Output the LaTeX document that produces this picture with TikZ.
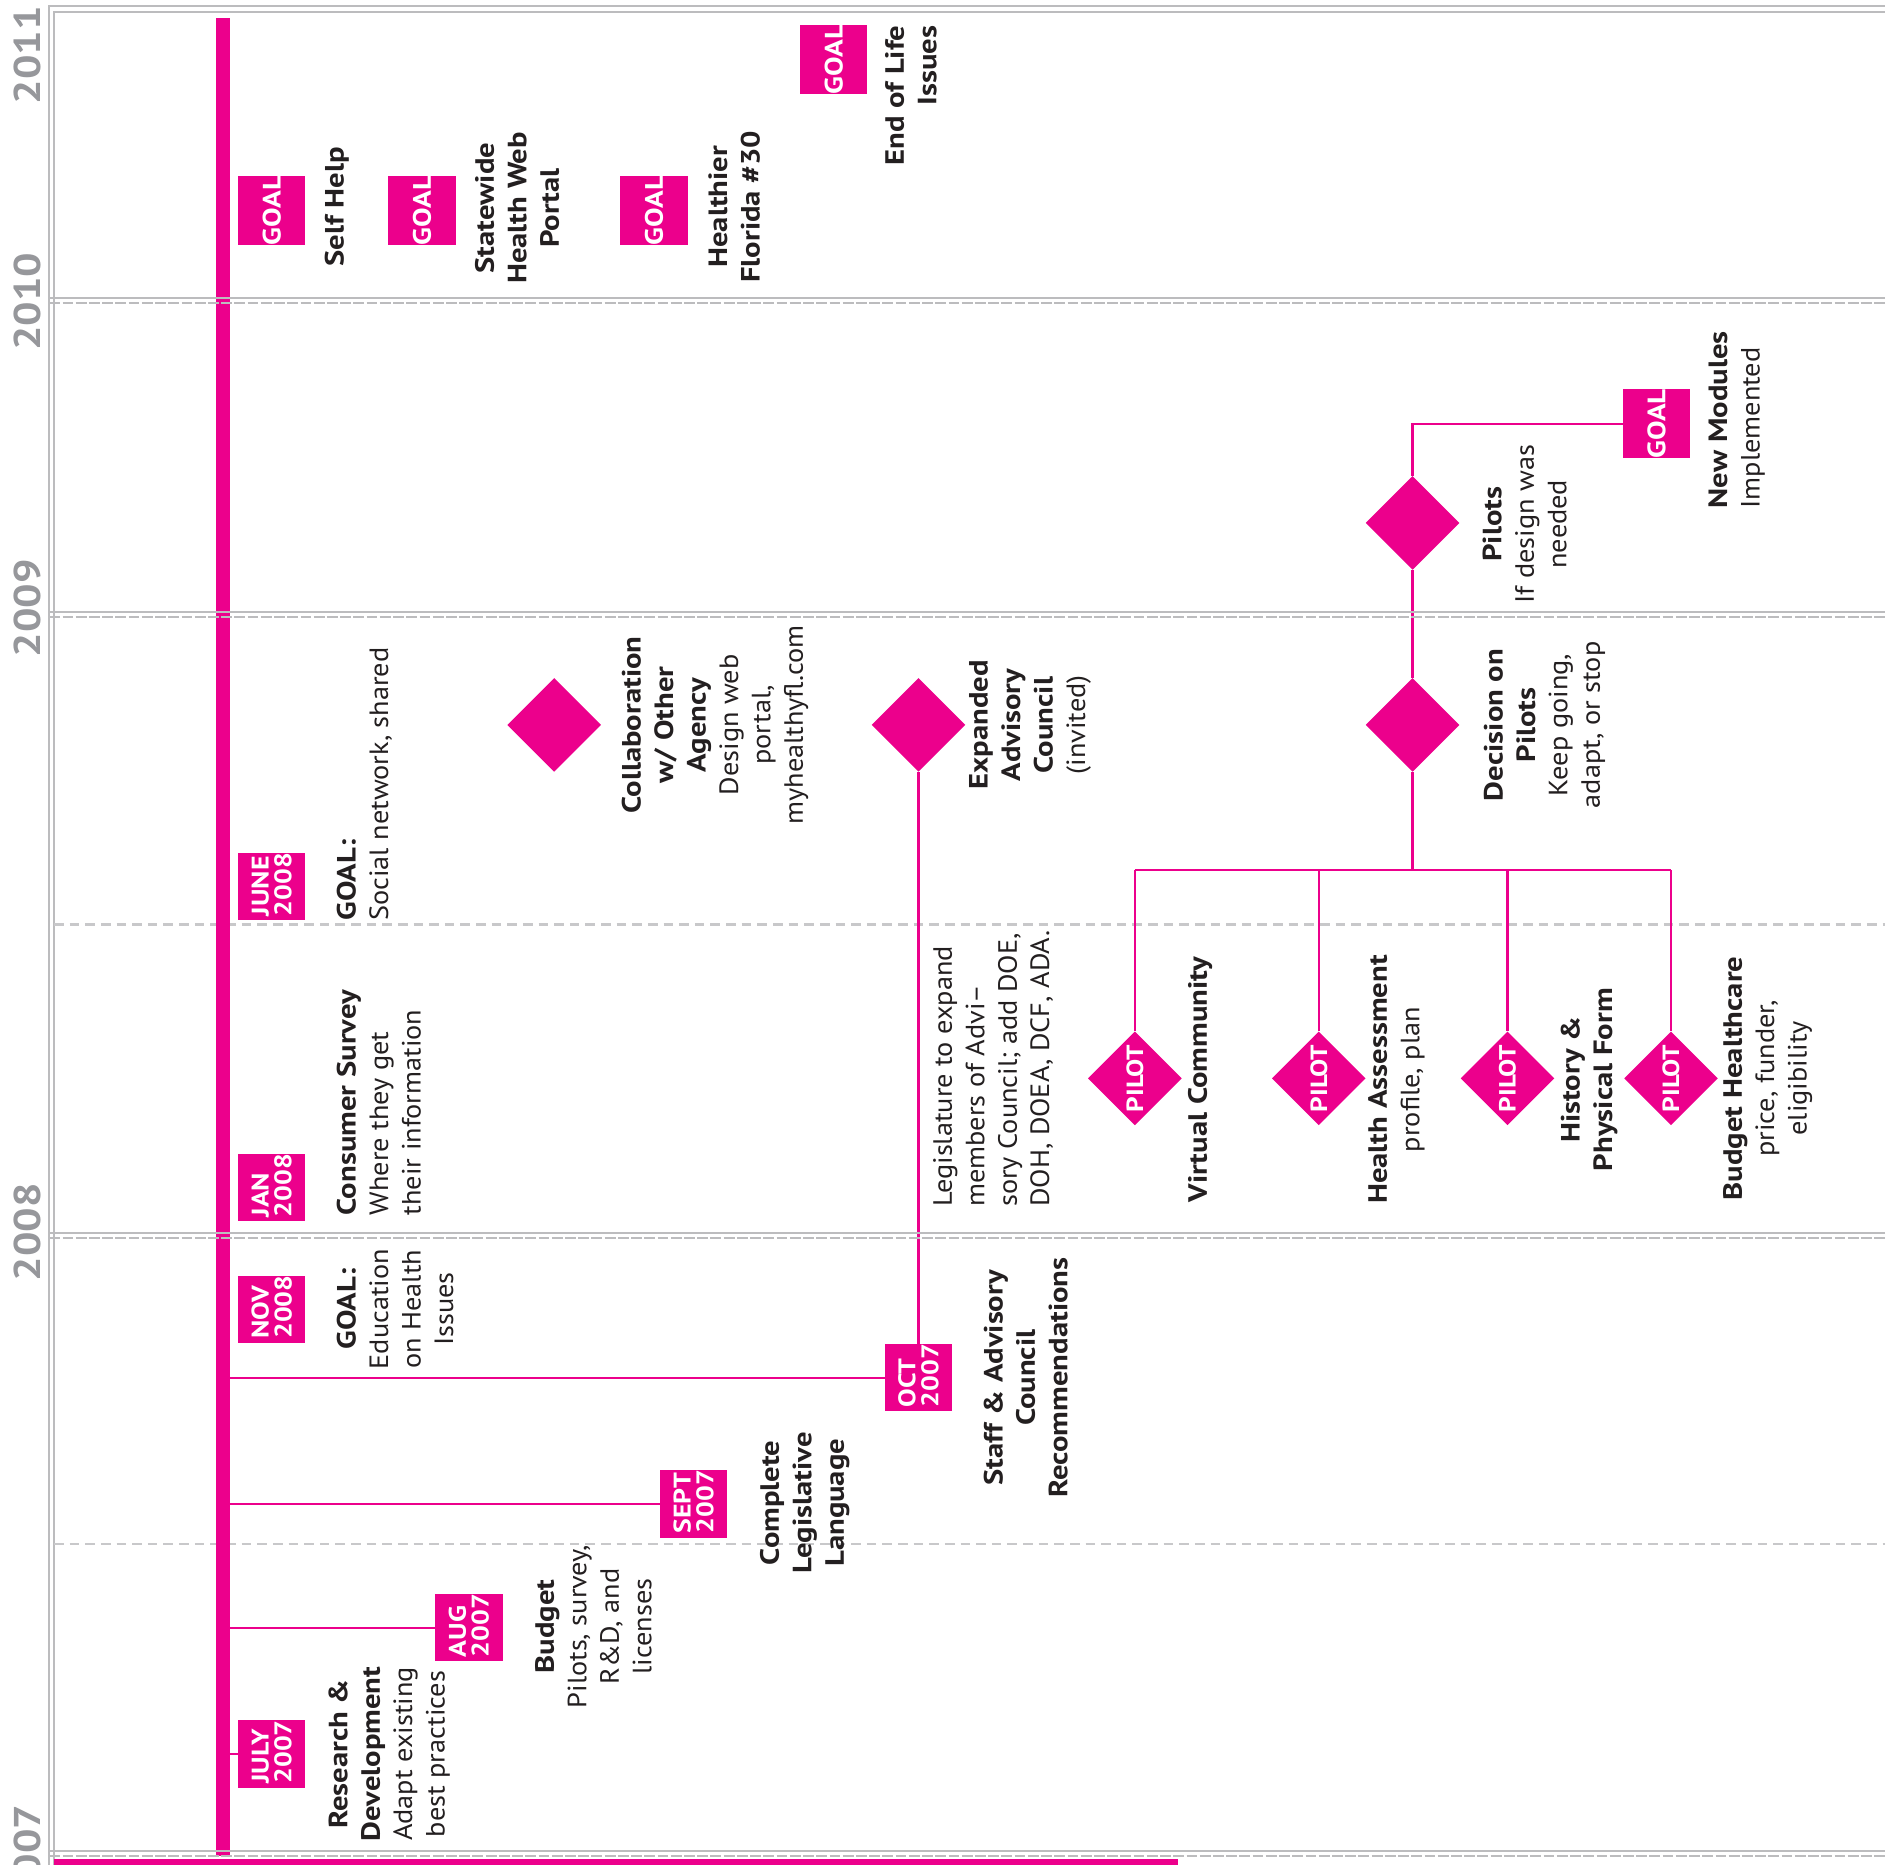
\documentclass[tikz,border=0pt]{standalone}
\usepackage{fontspec}
\setmainfont{PT Sans}[UprightFeatures={FakeStretch=1.07}, BoldFeatures={FakeStretch=1.16}]
\usetikzlibrary{shapes.geometric}
\definecolor{mag}{RGB}{236,0,140}
\definecolor{rulegray}{RGB}{188,188,190}
\definecolor{yeargray}{RGB}{150,151,155}
\definecolor{dashgray}{RGB}{200,200,202}
\definecolor{ink}{RGB}{35,31,32}
\newcommand\lblfont{\fontsize{22}{27}\selectfont}
\begin{document}
\begin{tikzpicture}[x=1pt,y=-1pt,
  lbl/.style={rotate=90, inner sep=0pt, text=ink, font=\lblfont},
  bold/.style={font=\lblfont\bfseries},
  lblc/.style={lbl, align=center, anchor=north},
  lbll/.style={lbl, align=left, anchor=north west},
  lblr/.style={lbl, align=right, anchor=north east},
  datebox/.style={rectangle, fill=mag, minimum width=56pt, minimum height=56pt, inner sep=0pt, text=white, font=\fontsize{20}{19}\selectfont\bfseries},
  goalbox/.style={datebox, font=\fontsize{21}{24}\selectfont\bfseries},
  milestone/.style={diamond, fill=mag, minimum width=78pt, minimum height=78pt, inner sep=0pt, text=white, font=\fontsize{19.5}{24}\selectfont\bfseries},
  conn/.style={draw=mag, line width=1.8pt},
  year/.style={rotate=90, text=yeargray, font=\fontsize{31}{31}\selectfont\bfseries, inner sep=0pt},
  yearline/.style={draw=rulegray, line width=1.6pt},
  yearlinedash/.style={draw=rulegray, line width=1.6pt, dash pattern=on 9pt off 2pt},
  midline/.style={draw=dashgray, line width=1.8pt, dash pattern=on 8pt off 5pt}
]
\useasboundingbox (0,0) rectangle (1568,1551);
\fill[white] (0,0) rectangle (1568,1551);

% frame
\draw[yearline] (41,1551) -- (41,5) -- (1568,5);
\draw[yearline] (45,1551) -- (45,10) -- (1568,10);

% mid-year dashed lines
\draw[midline] (45,769) -- (1568,769);
\draw[midline] (45,1284) -- (1568,1284);

% main timeline
\coordinate (mtop) at (185.5,15);
\coordinate (mbot) at (185.5,1544);

% boxes
\node[goalbox] (goal1) at (226,175) {\rotatebox{90}{GOAL}};
\node[goalbox] (goal2) at (351,175) {\rotatebox{90}{GOAL}};
\node[goalbox] (goal3) at (544,175) {\rotatebox{90}{GOAL}};
\node[goalbox] (goal4) at (693.5,49.5) {\rotatebox{90}{GOAL}};
\node[goalbox] (goal5) at (1378,352.5) {\rotatebox{90}{GOAL}};
\node[datebox] (june) at (226,737.5) {\rotatebox{90}{\parbox{49pt}{\raggedright JUNE\\2008}}};
\node[datebox] (jan) at (226,988) {\rotatebox{90}{\parbox{49pt}{\raggedright JAN\\2008}}};
\node[datebox] (nov) at (226,1089) {\rotatebox{90}{\parbox{49pt}{\raggedright NOV\\2008}}};
\node[datebox] (oct) at (764,1146) {\rotatebox{90}{\parbox{49pt}{\raggedright OCT\\2007}}};
\node[datebox] (sept) at (577,1251) {\rotatebox{90}{\parbox{49pt}{\raggedright SEPT\\2007}}};
\node[datebox] (aug) at (390,1354) {\rotatebox{90}{\parbox{49pt}{\raggedright AUG\\2007}}};
\node[datebox] (july) at (226,1459) {\rotatebox{90}{\parbox{49pt}{\raggedright JULY\\2007}}};

% diamonds
\node[milestone] (dcollab) at (461,603) {};
\node[milestone] (dexp) at (764,603) {};
\node[milestone] (ddec) at (1175,603) {};
\node[milestone] (dpil) at (1175,435) {};
\node[milestone] (p1) at (944,897) {\rotatebox{90}{PILOT}};
\node[milestone] (p2) at (1097,897) {\rotatebox{90}{PILOT}};
\node[milestone] (p3) at (1254,897) {\rotatebox{90}{PILOT}};
\node[milestone] (p4) at (1390,897) {\rotatebox{90}{PILOT}};
\coordinate (branch) at (1175,724);

% connectors
\draw[conn] (oct.west -| mtop) -- (oct.west);
\draw[conn] (sept.west -| mtop) -- (sept.west);
\draw[conn] (aug.west -| mtop) -- (aug.west);
\draw[conn] (july.west -| mtop) -- (july.west);
\draw[conn] (oct.north) -- (dexp.south);
\draw[conn] (dpil.north) |- (goal5.west);
\draw[conn] (dpil.south) -- (ddec.north);
\draw[conn] (ddec.south) -- (branch);
\draw[conn] (p1.north |- branch) -- (p4.north |- branch);
\draw[conn] (p1.north |- branch) -- (p1.north);
\draw[conn] (p2.north |- branch) -- (p2.north);
\draw[conn] (p3.north |- branch) -- (p3.north);
\draw[conn] (p4.north |- branch) -- (p4.north);

\draw[draw=mag, line width=11pt] (mtop) -- (mbot);
\fill[mag] (45,1546) rectangle (980,1552);

% year boundaries
\foreach \yy in {248,509,1026,1540} {
  \draw[yearline] (41,\yy) -- (1568,\yy);
  \draw[yearlinedash] (41,\yy+4) -- (1568,\yy+4);
}

% year labels
\node[year] (y2011) at (23,46) {2011};
\node[year] (y2010) at (23,251) {2010};
\node[year] (y2009) at (23,506) {2009};
\node[year] (y2008) at (23,1025) {2008};
\node[year] (y2007) at (23,1542) {2007};

% labels
\node[lblc,bold] (selfhelp) at (270,172) {Self Help};
\node[lblc,bold] (statewide) at (395,173) {Statewide\\Health Web\\Portal};
\node[lblc,bold] (healthier) at (589,172) {Healthier\\Florida \#30};
\node[lblr,bold] (endlife) at (736,21) {End of Life\\Issues};
\node[lbll] (newmod) at (1421,423) {\textbf{New Modules}\\Implemented};
\node[lblc] (pilotslbl) at (1233,436) {\textbf{Pilots}\\If design was\\needed};
\node[lblc] (decisionlbl) at (1234,603) {\textbf{Decision on}\\\textbf{Pilots}\\Keep going,\\adapt, or stop};
\node[lblc] (expandlbl) at (806,603) {\textbf{Expanded}\\\textbf{Advisory}\\\textbf{Council}\\(invited)};
\node[lblc] (collablbl) at (517,603) {\textbf{Collaboration}\\\textbf{w/ Other}\\\textbf{Agency}\\Design web\\portal,\\myhealthyfl.com};
\node[lbll] (legislbl) at (776,1004) {Legislature to expand\\members of Advi–\\sory Council; add DOE,\\DOH, DOEA, DCF, ADA.};
\node[lblc,bold] (vcomm) at (988,898) {Virtual Community};
\node[lblc] (healthlbl) at (1138,898) {\textbf{Health Assessment}\\profile, plan};
\node[lblc,bold] (histlbl) at (1298,898) {History \&\\Physical Form};
\node[lblc] (budgethc) at (1433,897) {\textbf{Budget Healthcare}\\price, funder,\\eligibility};
\node[lbll] (goalsoc) at (280,766) {\textbf{GOAL:}\\Social network, shared};
\node[lbll] (consumer) at (280,1011) {\textbf{Consumer Survey}\\Where they get\\their information};
\node[lblc] (goaledu) at (280,1089) {\textbf{GOAL:}\\Education\\on Health\\Issues};
\node[lblc,bold] (staff) at (818,1146) {Staff \& Advisory\\Council\\Recommendations};
\node[lblc,bold] (complete) at (632,1250) {Complete\\Legislative\\Language};
\node[lblc] (budget) at (445,1353) {\textbf{Budget}\\Pilots, survey,\\R\&D, and\\licenses};
\node[lblc] (research) at (273,1459) {\textbf{Research \&}\\\textbf{Development}\\Adapt existing\\best practices};
\end{tikzpicture}
\end{document}
